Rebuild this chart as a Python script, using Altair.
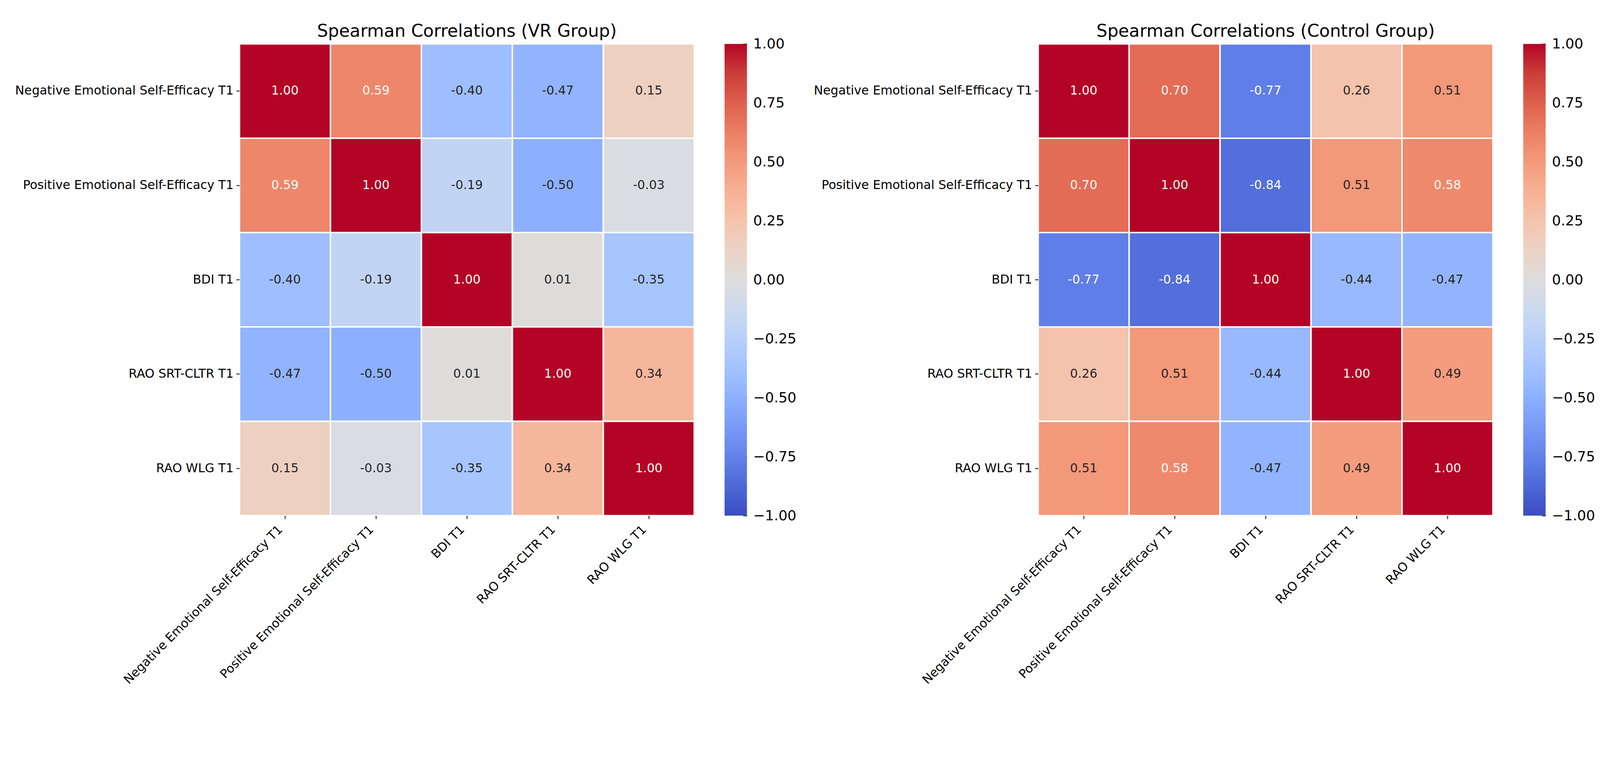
import altair as alt
import pandas as pd

labels = [
    "Negative Emotional Self-Efficacy T1",
    "Positive Emotional Self-Efficacy T1",
    "BDI T1",
    "RAO SRT-CLTR T1",
    "RAO WLG T1",
]

vr_rows = [
    [1.00, 0.59, -0.40, -0.47, 0.15],
    [0.59, 1.00, -0.19, -0.50, -0.03],
    [-0.40, -0.19, 1.00, 0.01, -0.35],
    [-0.47, -0.50, 0.01, 1.00, 0.34],
    [0.15, -0.03, -0.35, 0.34, 1.00],
]

control_rows = [
    [1.00, 0.70, -0.77, 0.26, 0.51],
    [0.70, 1.00, -0.84, 0.51, 0.58],
    [-0.77, -0.84, 1.00, -0.44, -0.47],
    [0.26, 0.51, -0.44, 1.00, 0.49],
    [0.51, 0.58, -0.47, 0.49, 1.00],
]

colorbar_ticks = [-1.0, -0.75, -0.5, -0.25, 0.0, 0.25, 0.5, 0.75, 1.0]
colorbar_range = {"lo": [-1.0], "hi": [1.0]}

# matplotlib "coolwarm" colormap sampled at 17 evenly spaced stops
coolwarm = [
    "#3b4cc0", "#4d68d7", "#6282ea", "#779af7", "#8db0fe", "#a3c2ff",
    "#b8d0f9", "#ccd9ee", "#dddddd", "#ecd3c5", "#f5c4ad", "#f7b194",
    "#f49a7b", "#ec7f63", "#de604d", "#cb3e38", "#b40426",
]
stops = [-1 + 0.125 * i for i in range(17)]

FONT = "DejaVu Sans"
TITLE_KW = dict(
    font=FONT,
    fontSize=48,
    fontWeight="normal",
    color="black",
    anchor="middle",
    frame="group",
    baseline="bottom",
    offset=-40,
)


def long_df(rows):
    recs = []
    for i, r in enumerate(labels):
        for j, c in enumerate(labels):
            v = rows[i][j]
            recs.append({"row": r, "col": c, "value": v, "label": f"{v:.2f}"})
    return pd.DataFrame(recs)


def heatmap(rows, title):
    df = long_df(rows)
    base = alt.Chart(df).encode(
        x=alt.X(
            "col:N",
            sort=labels,
            title=None,
            scale=alt.Scale(paddingInner=0, paddingOuter=0),
            axis=alt.Axis(
                labelAngle=-45,
                labelAlign="right",
                labelBaseline="bottom",
                labelPadding=36,
                labelLimit=2000,
            ),
        ),
        y=alt.Y(
            "row:N",
            sort=labels,
            title=None,
            scale=alt.Scale(paddingInner=0, paddingOuter=0),
            axis=alt.Axis(labelLimit=2000, labelPadding=8),
        ),
    )
    rect = base.mark_rect(stroke="white", strokeWidth=4).encode(
        color=alt.Color(
            "value:Q",
            scale=alt.Scale(domain=stops, range=coolwarm, interpolate="rgb"),
            legend=None,
        )
    )
    text = base.mark_text(font=FONT, fontSize=34).encode(
        text="label:N",
        color=alt.condition(
            "abs(datum.value) > 0.55", alt.value("white"), alt.value("#262626")
        ),
    )
    return alt.layer(rect, text).properties(
        width=1260, height=1307, title=alt.TitleParams(title, **TITLE_KW)
    )


def colorbar():
    grad = alt.Gradient(
        gradient="linear",
        stops=[
            alt.GradientStop(color=c, offset=(s + 1) / 2)
            for c, s in zip(coolwarm, stops)
        ],
        x1=0,
        x2=0,
        y1=1,
        y2=0,
    )
    return (
        alt.Chart(pd.DataFrame(colorbar_range))
        .mark_rect(fill=grad)
        .encode(
            y=alt.Y(
                "lo:Q",
                title=None,
                scale=alt.Scale(domain=[-1, 1], nice=False, zero=False),
                axis=alt.Axis(
                    orient="right",
                    values=colorbar_ticks,
                    format=".2f",
                    labelFontSize=39,
                    labelPadding=17,
                    tickSize=11,
                    offset=-11,
                    labelOverlap=False,
                    labelFlush=False,
                ),
            ),
            y2="hi:Q",
        )
        .properties(width=62, height=1307, title=alt.TitleParams(" ", **TITLE_KW))
    )


left = alt.hconcat(heatmap(vr_rows, "Spearman Correlations (VR Group)"), colorbar(), spacing=82)
right = alt.hconcat(
    heatmap(control_rows, "Spearman Correlations (Control Group)"), colorbar(), spacing=82
)

chart = (
    alt.hconcat(left, right, spacing=47)
    .properties(padding={"left": 32, "top": -35, "right": 5, "bottom": -45})
    .configure_view(strokeWidth=0)
    .configure_axis(
        domain=False,
        grid=False,
        labelFont=FONT,
        labelFontSize=34,
        labelColor="black",
        tickColor="#262626",
        tickWidth=2.5,
        tickSize=9,
    )
)

chart.save("out.html", embed_options={"renderer": "svg", "actions": False})
